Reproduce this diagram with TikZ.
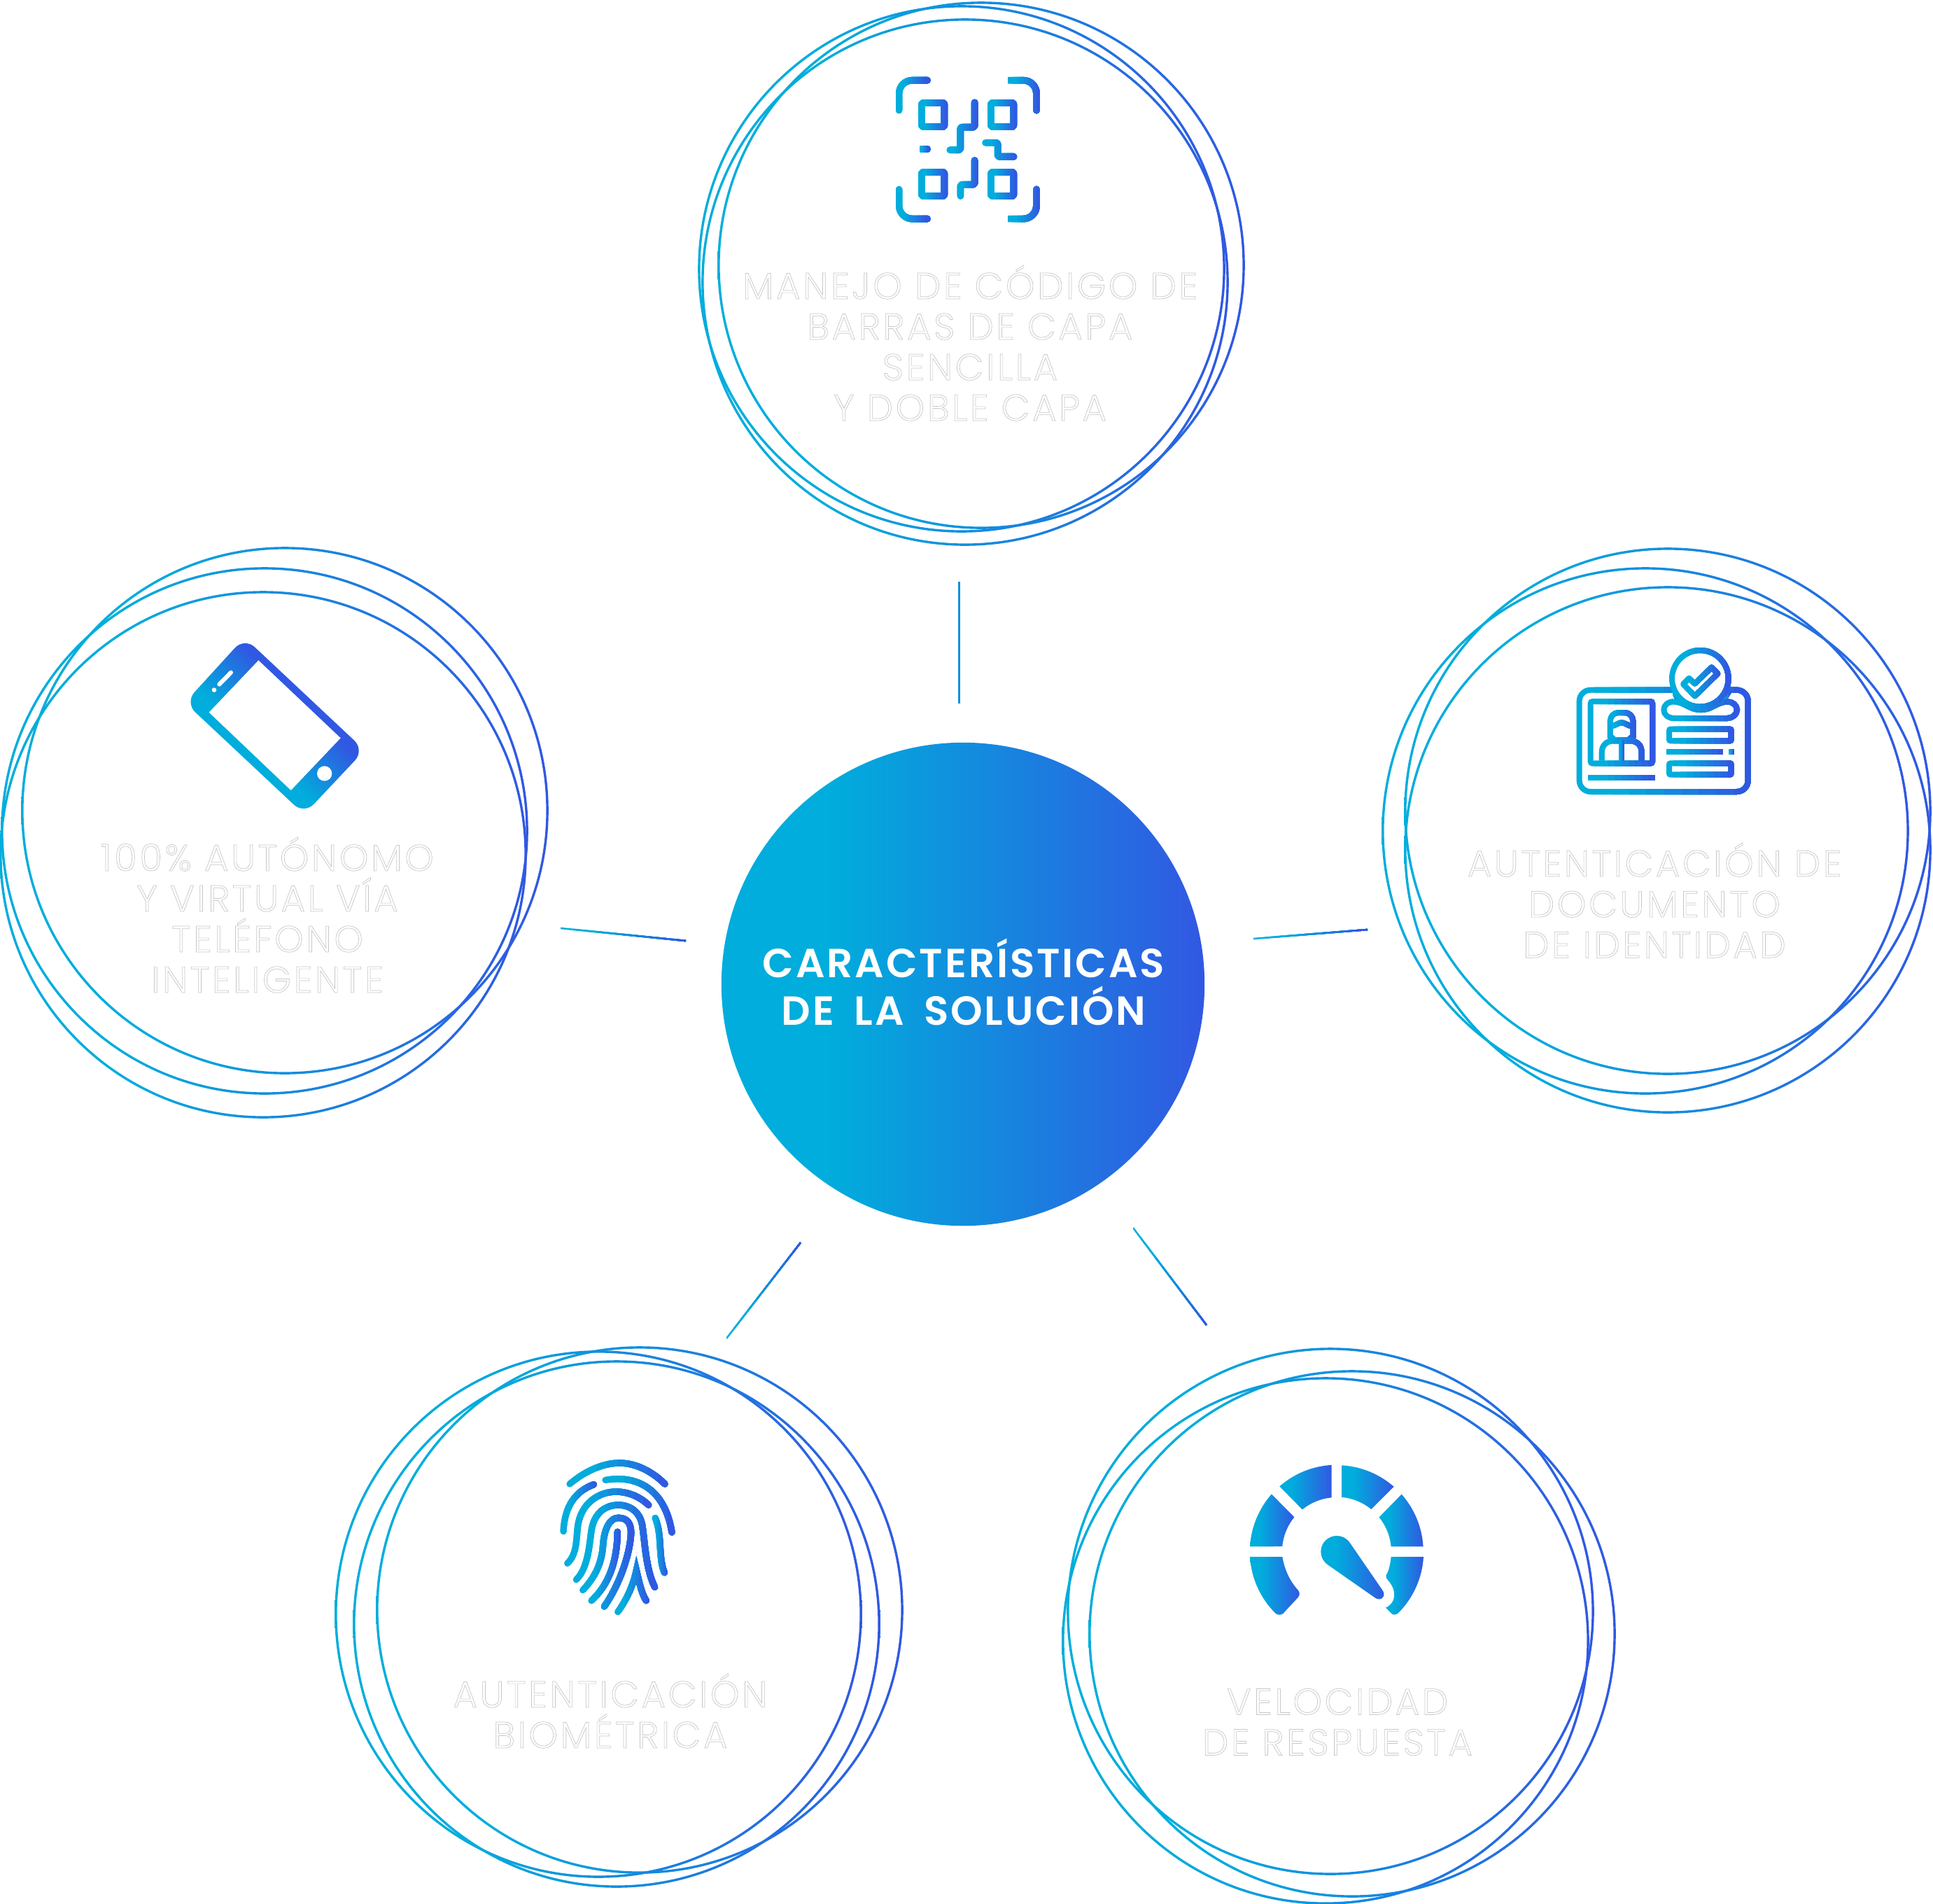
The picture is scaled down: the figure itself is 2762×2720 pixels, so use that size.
\documentclass[tikz,border=0pt]{standalone}
\usepackage{fontspec}
\setmainfont{Poppins}
\newfontfamily\labelfont[LetterSpace=7]{Poppins Light}
\newfontfamily\titlefont[LetterSpace=5,WordSpace=1.7]{Poppins SemiBold}
\usepackage{tikz}
\definecolor{brandcyan}{HTML}{00ADDC}
\definecolor{brandblue}{HTML}{3158E2}
\pgfdeclarehorizontalshading{brandh}{100bp}{color(0bp)=(brandcyan); color(36bp)=(brandcyan); color(75bp)=(brandblue); color(100bp)=(brandblue)}
\pgfdeclarehorizontalshading{phoneh}{100bp}{color(0bp)=(brandcyan); color(42bp)=(brandcyan); color(60bp)=(brandblue); color(100bp)=(brandblue)}
\tikzset{
    ringline/.style={shade, shading=brandh, even odd rule},
    iconfill/.style={shade, shading=brandh},
    hubcircle/.style={circle, shade, shading=brandh, minimum size=6.9cm, inner sep=0pt},
    titletext/.style={text=white, align=center, inner sep=0pt, font=\titlefont\fontsize{16.5}{19.4}\selectfont},
    labeltext/.style={text=white, align=center, inner sep=0pt, font=\labelfont\fontsize{15}{16.5}\selectfont}
}
% white letters with a hairline grey edge
\newcommand{\outlined}[1]{\special{pdf:code 2 Tr 0.2 w 0.78 G}#1\special{pdf:code 0 Tr}}
% stroke whose colour runs from cyan to blue between two x values
\newcommand{\gradstroke}[4][]{%
    \foreach \slice in {0,...,9} {
        \pgfmathsetmacro{\xcut}{(#2)+\slice*((#3)-(#2))/10}
        \pgfmathtruncatemacro{\mixpct}{max(0,(\slice-2)*100/7)}
        \begin{scope}
            \clip (\xcut,-2000) rectangle (3000,4000);
            \draw[color=brandblue!\mixpct!brandcyan, #1] #4;
        \end{scope}
    }
}
\begin{document}
\begin{tikzpicture}[x=0.01cm, y=-0.01cm]
    \useasboundingbox[fill=white] (0,0) rectangle (2762,2720);

    % Rings around the five topics
    \foreach \cx/\cy in {1402/379, 1379/403, 1374/384,
                         2383/1159, 2351/1187, 2383/1214,
                         407/1158, 378/1187, 376/1221,
                         914/2300, 855/2306, 881/2320,
                         1932/2334, 1894/2344, 1901/2302}
        \path[ringline] (\cx,\cy) circle (376.8) (\cx,\cy) circle (373.4);

    % Hub
    \node[hubcircle] (hub) at (1376,1406) {};
    \node[titletext] (hubtitle) at (1377,1403) {CARACTERÍSTICAS\\DE LA SOLUCIÓN};

    % Spokes
    \coordinate (topa) at (1370.5,831);
    \coordinate (topb) at (1370.5,1005);
    \coordinate (lefta) at (801,1326);
    \coordinate (leftb) at (980,1344);
    \coordinate (righta) at (1791,1341);
    \coordinate (rightb) at (1954,1328);
    \coordinate (downla) at (1144,1775);
    \coordinate (downlb) at (1038,1912);
    \coordinate (downra) at (1619,1754);
    \coordinate (downrb) at (1724,1893);
    \begin{scope}[line width=0.025cm]
        \gradstroke{1360}{1381}{(topa) -- (topb)}
        \gradstroke{801}{980}{(lefta) -- (leftb)}
        \gradstroke{1791}{1954}{(righta) -- (rightb)}
        \gradstroke{1038}{1144}{(downla) -- (downlb)}
        \gradstroke{1619}{1724}{(downra) -- (downrb)}
    \end{scope}

    % Labels
    \node[labeltext] (codelabel) at (1386,490) {\outlined{MANEJO DE CÓDIGO DE\\BARRAS DE CAPA\\SENCILLA\\Y DOBLE CAPA}};
    \node[labeltext] (idlabel) at (2364,1286) {\outlined{AUTENTICACIÓN DE\\DOCUMENTO\\DE IDENTIDAD}};
    \node[labeltext] (phonelabel) at (382,1307) {\outlined{100\% AUTÓNOMO\\Y VIRTUAL VÍA\\TELÉFONO\\INTELIGENTE}};
    \node[labeltext] (biolabel) at (872,2444) {\outlined{AUTENTICACIÓN\\BIOMÉTRICA}};
    \node[labeltext] (speedlabel) at (1911,2460) {\outlined{VELOCIDAD\\DE RESPUESTA}};

    % Code icon
    \begin{scope}[line width=0.097cm, line cap=round, line join=round]
        \gradstroke[rounded corners=0.19cm]{1280}{1325}{(1284.5,157.6) -- (1284.5,114.7) -- (1325,114.7)}
        \gradstroke[rounded corners=0.19cm]{1440}{1486}{(1440,114.7) -- (1481,114.7) -- (1481,157.6)}
        \gradstroke[rounded corners=0.19cm]{1280}{1325}{(1284.5,270.5) -- (1284.5,312.6) -- (1325,312.6)}
        \gradstroke[rounded corners=0.19cm]{1440}{1486}{(1440,312.6) -- (1481,312.6) -- (1481,270.5)}
        \foreach \qx/\qy in {1333/164, 1432/164, 1333/263, 1432/263} {
            \gradstroke[rounded corners=0.02cm]{\qx-21}{\qx+21}{(\qx-16.3,\qy-17) rectangle (\qx+16.3,\qy+17)}
        }
        \gradstroke{1314}{1327}{(1316,213) -- (1325,213)}
        \gradstroke[rounded corners=0.025cm]{1352}{1398}{(1392.6,146.5) -- (1392.6,181.7) -- (1372.3,181.7) -- (1372.3,214.2) -- (1357.2,214.2)}
        \gradstroke[rounded corners=0.025cm]{1403}{1453}{(1408,203.9) -- (1425.6,203.9) -- (1425.6,223.8) -- (1448.4,223.8)}
        \gradstroke[rounded corners=0.025cm]{1367}{1398}{(1392.6,229.2) -- (1392.6,263.6) -- (1372.3,263.6) -- (1372.3,280)}
    \end{scope}

    % Id card icon
    \begin{scope}[shift={(2200,900)}, scale=1/3, line width=0.08cm]
        \gradstroke[rounded corners=0.16cm]{158}{905}{(570,257) -- (170,257) -- (170,693) -- (893,693) -- (893,257) -- (815,257)}
        \gradstroke{570}{590}{(570,257) -- (592,293)}
        \gradstroke{790}{815}{(815,257) -- (792,293)}
        \gradstroke[rounded corners=0.03cm]{205}{495}{(218,306) rectangle (483,572)}
        \gradstroke[rounded corners=0.12cm]{290}{412}{(302,354) -- (400,354) -- (400,420) .. controls (400,455) and (375,472) .. (351,472) .. controls (327,472) and (302,455) .. (302,420) -- cycle}
        \gradstroke{302}{400}{(302,412) .. controls (325,412) and (335,397) .. (351,397) .. controls (367,397) and (377,412) .. (400,412)}
        \gradstroke{254}{449}{(266,560) -- (266,525) .. controls (266,495) and (285,478) .. (310,475) -- (392,475) .. controls (420,478) and (437,495) .. (437,525) -- (437,560)}
        \gradstroke{339}{363}{(351,475) -- (351,560)}
        \gradstroke{206}{495}{(206,632) -- (495,632)}
        \gradstroke{520}{858}{(575,307) .. controls (625,310) and (640,342) .. (690,342) .. controls (740,342) and (755,310) .. (805,307) .. controls (825,307) and (846,322) .. (846,342) .. controls (846,362) and (825,378) .. (805,378) -- (575,378) .. controls (550,378) and (532,362) .. (532,342) .. controls (532,322) and (550,307) .. (575,307)}
        \gradstroke{555}{821}{(688,208) circle (121)}
        \gradstroke[line join=round]{604}{775}{(615,232) -- (640,207) -- (665,230) -- (737,160) -- (763,187) -- (665,283) -- cycle}
        \gradstroke[rounded corners=0.02cm]{543}{833}{(555,425) rectangle (821,475)}
        \gradstroke[rounded corners=0.02cm]{543}{833}{(555,571) rectangle (821,620)}
        \gradstroke{543}{785}{(543,523) -- (785,523)}
        \gradstroke{810}{833}{(810,523) -- (833,523)}
    \end{scope}

    % Phone icon
    \begin{scope}[shift={(250,900)}, scale=1/3]
        \path[shade, shading=phoneh, shading angle=45, rounded corners=0.2cm] (298,32) -- (813,515) -- (554,790) -- (43,311) -- cycle;
        \fill[white] (358,130) -- (710,463) -- (497,687) -- (146,353) -- cycle;
        \fill[white] (641,615) circle (32);
        \fill[white] (168,257) circle (10);
        \draw[white, line width=0.06cm, line cap=round] (190,233) -- (240,182);
    \end{scope}

    % Fingerprint icon
    \begin{scope}[shift={(760,2050)}, scale=1/3, line width=0.093cm, line cap=round]
        \gradstroke{148}{584}{(162,210) .. controls (220,160) and (300,120) .. (375,120) .. controls (450,120) and (520,160) .. (570,210)}
        \gradstroke{121}{279}{(265,212) .. controls (190,240) and (140,300) .. (135,413)}
        \gradstroke{301}{614}{(315,193) .. controls (450,170) and (570,230) .. (600,417)}
        \gradstroke{138}{514}{(152,550) .. controls (195,510) and (190,440) .. (197,390) .. controls (210,290) and (290,243) .. (360,243) .. controls (410,243) and (460,262) .. (500,300)}
        \gradstroke{176}{541}{(190,620) .. controls (240,570) and (245,480) .. (255,410) .. controls (265,340) and (310,300) .. (370,300) .. controls (430,300) and (470,340) .. (475,400) .. controls (485,470) and (490,580) .. (527,652)}
        \gradstroke{514}{582}{(528,355) .. controls (560,430) and (540,520) .. (568,590)}
        \gradstroke{204}{439}{(218,665) .. controls (270,610) and (300,550) .. (305,470) .. controls (310,400) and (335,355) .. (370,355) .. controls (410,355) and (425,380) .. (425,420) .. controls (420,520) and (370,650) .. (310,735)}
        \gradstroke{241}{381}{(255,710) .. controls (320,650) and (365,560) .. (367,415)}
        \gradstroke{354}{504}{(368,758) .. controls (410,700) and (435,640) .. (448,580) .. controls (460,630) and (470,680) .. (490,710)}
    \end{scope}

    % Speed icon
    \begin{scope}[shift={(1760,2060)}, scale=1/3]
        \path[iconfill] (78,448) arc[start angle=183.4, end angle=221.5, radius=372] -- (268,322) arc[start angle=219.1, end angle=185.4, radius=234] -- cycle;
        \path[iconfill] (205,190) arc[start angle=228.8, end angle=266.6, radius=372] -- (428,238) arc[start angle=264.6, end angle=230.9, radius=234] -- cycle;
        \path[iconfill] (472,100) arc[start angle=273.4, end angle=311.2, radius=372] -- (598,288) arc[start angle=309.1, end angle=275.4, radius=234] -- cycle;
        \path[iconfill] (728,224) arc[start angle=318.5, end angle=356.6, radius=372] -- (683,448) arc[start angle=354.6, end angle=320.9, radius=234] -- cycle;
        \path[iconfill] (78,492) arc[start angle=176.6, end angle=134.5, radius=372] .. controls (198,742) and (212,742) .. (220,735) -- (285,665) .. controls (295,652) and (290,640) .. (280,630) .. controls (245,590) and (225,540) .. (217,492) -- cycle;
        \path[iconfill] (822,492) arc[start angle=3.4, end angle=45.1, radius=372] .. controls (702,742) and (692,742) .. (685,735) -- (660,710) .. controls (705,690) and (705,640) .. (680,605) .. controls (660,580) and (658,578) .. (662,570) .. controls (675,550) and (680,520) .. (683,492) -- cycle;
        \path[iconfill] (410,525) .. controls (390,510) and (382,490) .. (382,470) .. controls (382,430) and (415,402) .. (450,402) .. controls (470,402) and (490,410) .. (505,430) -- (648,638) .. controls (662,660) and (640,685) .. (615,668) -- cycle;
    \end{scope}
\end{tikzpicture}
\end{document}
